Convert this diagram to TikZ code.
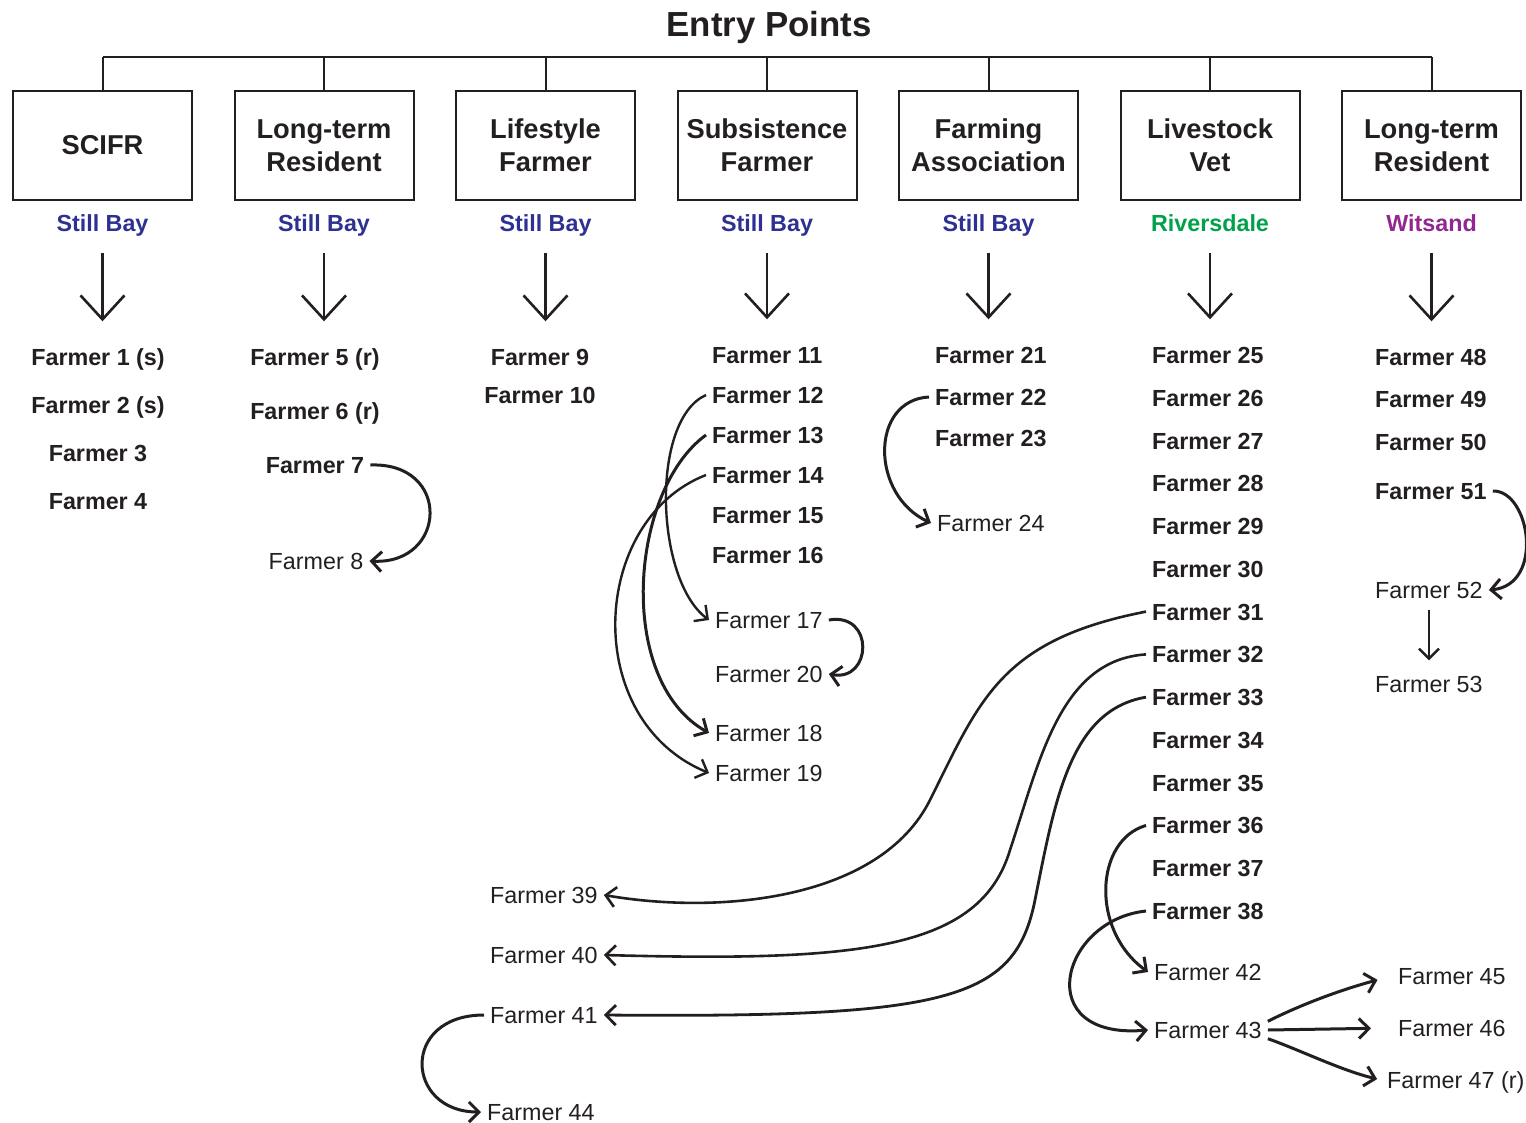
\documentclass[tikz,border=0pt]{standalone}
\usepackage{fontspec}
\setmainfont{Liberation Sans}
\usetikzlibrary{positioning,arrows.meta}

\definecolor{ink}{HTML}{231F20}
\definecolor{baycol}{HTML}{2E3192}
\definecolor{rivcol}{HTML}{00A14B}
\definecolor{witcol}{HTML}{92278F}

\begin{document}
\begin{tikzpicture}[x=1pt, y=-1pt, ink,
  ebox/.style={draw, line width=2pt, minimum width=179pt, minimum height=109pt,
    align=center, font=\fontsize{27.3}{33}\selectfont\bfseries},
  loc/.style={font=\fontsize{23.3}{28}\selectfont\bfseries, inner sep=0pt,
    text height=17pt, text depth=0pt},
  fb/.style={font=\fontsize{23.3}{28}\selectfont\bfseries, inner xsep=6pt,
    inner ysep=0pt, text height=17pt, text depth=0pt},
  fr/.style={fb, font=\fontsize{23.3}{28}\selectfont},
  down/.style={line width=2.6pt, -{Straight Barb[length=24pt,width=44pt]}},
  link/.style={line width=3pt, -{Straight Barb[length=10pt,width=20pt]}},
]

\useasboundingbox (0,0) rectangle (1526,1123);

% title and bar
\node[font=\fontsize{34.8}{40}\selectfont\bfseries, text height=25pt, text depth=0pt,
  inner sep=0pt] (title) at (769,24) {Entry Points};
\coordinate (bar) at (0,57);

% entry boxes
\foreach \i/\txt in {1/SCIFR, 2/{Long-term\\Resident}, 3/{Lifestyle\\Farmer},
    4/{Subsistence\\Farmer}, 5/{Farming\\Association}, 6/{Livestock\\Vet},
    7/{Long-term\\Resident}} {
  \node[ebox] (b\i) at ({102.5+221.5*(\i-1)},145.5) {\txt};
  \draw[line width=2pt] (b\i.north) -- (b\i.north |- bar);
}
\draw[line width=2pt] (b1.north |- bar) -- (b7.north |- bar);

% places
\foreach \i/\place/\col in {1/Still Bay/baycol, 2/Still Bay/baycol, 3/Still Bay/baycol,
    4/Still Bay/baycol, 5/Still Bay/baycol, 6/Riversdale/rivcol, 7/Witsand/witcol}
  \node[loc, text=\col, below=13pt of b\i] (l\i) {\place};

% SCIFR column
\node[fb] (f1) at (98,357) {Farmer 1 (s)};
\node[fb] (f2) at (98,405) {Farmer 2 (s)};
\node[fb] (f3) at (98,453) {Farmer 3};
\node[fb] (f4) at (98,501) {Farmer 4};

% long-term resident, Still Bay
\node[fb] (f5) at (315,357) {Farmer 5 (r)};
\node[fb] (f6) at (315,411) {Farmer 6 (r)};
\node[fb] (f7) at (315,465) {Farmer 7};
\node[fr] (f8) at (316,561) {Farmer 8};

% lifestyle farmer
\node[fb] (f9) at (540,357) {Farmer 9};
\node[fb] (f10) at (540,395) {Farmer 10};

% subsistence farmer
\foreach \n in {11,...,16}
  \node[fb, anchor=west] (f\n) at (706,{355+40*(\n-11)}) {Farmer \n};
\node[fr, anchor=west] (f17) at (709,620) {Farmer 17};
\node[fr, anchor=west] (f20) at (709,674) {Farmer 20};
\node[fr, anchor=west] (f18) at (709,733) {Farmer 18};
\node[fr, anchor=west] (f19) at (709,773) {Farmer 19};

% farming association
\node[fb, anchor=west] (f21) at (929,355) {Farmer 21};
\node[fb, anchor=west] (f22) at (929,397) {Farmer 22};
\node[fb, anchor=west] (f23) at (929,438) {Farmer 23};
\node[fr, anchor=west] (f24) at (931,523) {Farmer 24};

% livestock vet
\foreach \n in {25,...,38}
  \node[fb, anchor=west] (f\n) at (1146,{355+42.77*(\n-25)}) {Farmer \n};
\node[fr, anchor=west] (f42) at (1148,972) {Farmer 42};
\node[fr, anchor=west] (f43) at (1148,1030) {Farmer 43};
\node[fr, anchor=west] (f39) at (484,895) {Farmer 39};
\node[fr, anchor=west] (f40) at (484,955) {Farmer 40};
\node[fr, anchor=west] (f41) at (484,1015) {Farmer 41};
\node[fr, anchor=west] (f44) at (481,1112) {Farmer 44};
\node[fr, anchor=west] (f45) at (1392,976) {Farmer 45};
\node[fr, anchor=west] (f46) at (1392,1028) {Farmer 46};
\node[fr, anchor=west] (f47) at (1381,1080) {Farmer 47 (r)};

% long-term resident, Witsand
\node[fb, anchor=west] (f48) at (1369,357) {Farmer 48};
\node[fb, anchor=west] (f49) at (1369,399) {Farmer 49};
\node[fb, anchor=west] (f50) at (1369,442) {Farmer 50};
\node[fb, anchor=west] (f51) at (1369,491) {Farmer 51};
\node[fr, anchor=west] (f52) at (1369,590) {Farmer 52};
\node[fr, anchor=west] (f53) at (1369,684) {Farmer 53};

% big arrows under the places
\foreach \i/\top in {1/1, 2/5, 3/9, 4/11, 5/21, 6/25, 7/48}
  \draw[down, shorten <=22pt, shorten >=27pt] (l\i.south) -- (l\i.south |- f\top.north);

% referrals
\draw[link] (f7.east) .. controls (452,462) and (447,565) .. (f8.east);
\draw[link, line width=2.4pt] (f12.west) .. controls (650,420) and (655,580) .. (f17.west);
\draw[link] (f13.west) .. controls (630,490) and (615,680) .. (f18.west);
\draw[link, line width=2.4pt] (f14.west) .. controls (590,520) and (580,720) .. (f19.west);
\draw[link] (f17.east) .. controls (875,612) and (872,682) .. (f20.east);
\draw[link] (f22.west) .. controls (870,400) and (870,495) .. (f24.west);
\draw[link, line width=2.6pt] (f31.west) .. controls (1000,640) and (980,700) .. (930,800)
  .. controls (880,900) and (720,915) .. (f39.east);
\draw[link, line width=2.6pt] (f32.west) .. controls (1060,660) and (1040,760) .. (1010,850)
  .. controls (980,950) and (860,962) .. (f40.east);
\draw[link, line width=2.8pt] (f33.west) .. controls (1070,710) and (1055,800) .. (1035,900)
  .. controls (1015,1000) and (950,1018) .. (f41.east);
\draw[link] (f36.west) .. controls (1095,840) and (1090,930) .. (f42.west);
\draw[link] (f38.west) .. controls (1060,920) and (1030,1040) .. (f43.west);
\draw[link] (f41.west) .. controls (400,1015) and (405,1112) .. (f44.west);
\draw[link, shorten >=15pt] (f43.north east) .. controls (1300,1005) and (1340,990) .. (f45.west);
\draw[link, shorten >=21pt] (f43.east) -- (f46.west);
\draw[link, shorten >=4pt] (f43.south east) .. controls (1300,1050) and (1340,1070) .. (f47.west);
\draw[link] (f51.east) .. controls (1530,490) and (1545,585) .. (f52.east);
\draw[link, line width=2.4pt, shorten <=11pt, shorten >=15pt] (f52.south) -- (f53.north);

\end{tikzpicture}
\end{document}
